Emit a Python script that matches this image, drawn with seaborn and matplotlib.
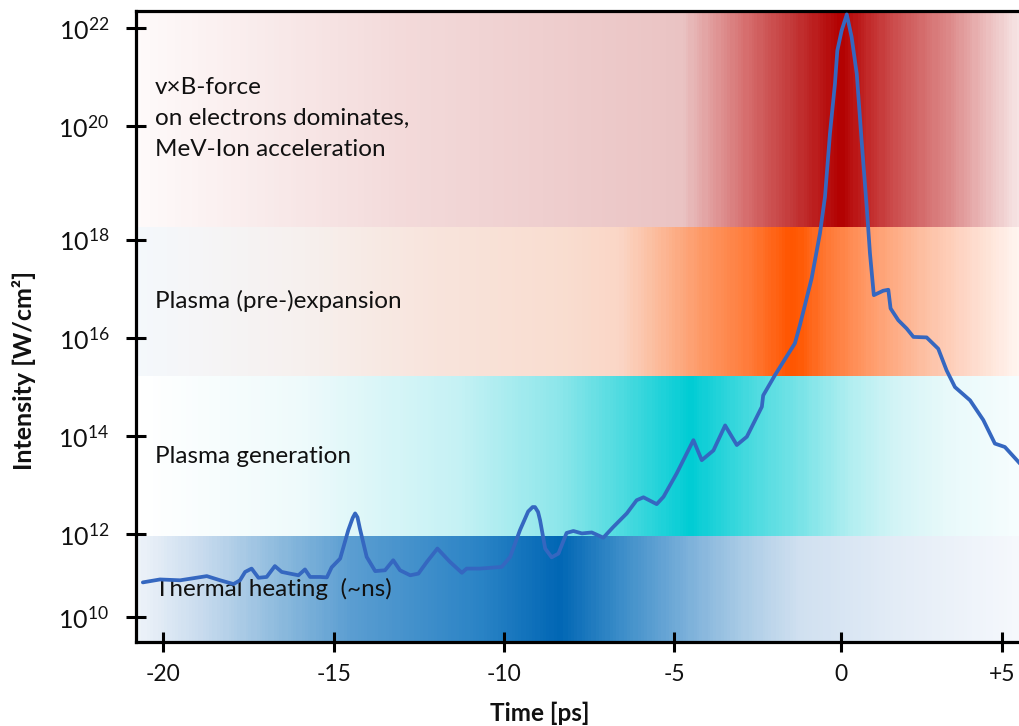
import numpy as np
import matplotlib
matplotlib.use("Agg")
import matplotlib.pyplot as plt
import matplotlib.transforms as mtransforms
import seaborn as sns
from matplotlib.colors import LinearSegmentedColormap
from matplotlib.ticker import FixedLocator, FixedFormatter, NullLocator

# ---------------------------------------------------------------------------
# Laser pulse temporal contrast: time [ps] and log10 of intensity [W/cm^2]
# ---------------------------------------------------------------------------
time_ps = [
    -20.59, -20.09, -19.50, -18.72, -18.33, -17.94, -17.75, -17.60, -17.41, -17.21,
    -16.97, -16.73, -16.53, -16.29, -16.04, -15.85, -15.70, -15.41, -15.21, -15.07,
    -14.82, -14.58, -14.45, -14.38, -14.31, -14.24, -14.04, -13.79, -13.50, -13.26,
    -13.06, -12.76, -12.52, -12.27, -11.96, -11.59, -11.24, -11.10, -10.71, -10.07,
    -9.82, -9.53, -9.29, -9.16, -9.09, -9.00, -8.94, -8.79, -8.60, -8.40,
    -8.16, -7.96, -7.71, -7.42, -7.08, -6.79, -6.39, -6.10, -5.90, -5.51, -5.31,
    -4.92, -4.42, -4.17, -3.82, -3.47, -3.12, -2.82, -2.37, -2.33, -1.98,
    -1.38, -1.23, -0.88, -0.63, -0.48, -0.33, -0.18, -0.11, 0.02, 0.18,
    0.33, 0.49, 0.64, 0.80, 0.90, 1.02, 1.31, 1.47, 1.54, 1.78,
    2.04, 2.25, 2.66, 3.02, 3.28, 3.54, 4.01, 4.42, 4.78, 5.09, 5.56,
]
log_intensity = [
    10.84, 10.91, 10.89, 10.99, 10.89, 10.80, 10.89, 11.09, 11.17, 10.95,
    10.97, 11.23, 11.09, 11.05, 11.01, 11.15, 10.97, 10.97, 10.96, 11.20,
    11.41, 12.08, 12.33, 12.42, 12.34, 12.11, 11.45, 11.11, 11.13, 11.37,
    11.13, 11.01, 11.05, 11.33, 11.65, 11.33, 11.07, 11.17, 11.17, 11.21,
    11.45, 12.08, 12.46, 12.55, 12.55, 12.45, 12.28, 11.65, 11.44, 11.53,
    12.02, 12.06, 12.01, 12.03, 11.91, 12.14, 12.42, 12.69, 12.75, 12.61, 12.76,
    13.24, 13.92, 13.51, 13.71, 14.22, 13.82, 13.99, 14.60, 14.83, 15.24,
    15.89, 16.26, 17.21, 18.11, 18.75, 19.87, 20.87, 21.54, 21.95, 22.28,
    21.82, 21.07, 19.75, 18.57, 17.72, 16.87, 16.96, 16.98, 16.60, 16.36,
    16.19, 16.02, 16.01, 15.78, 15.34, 15.00, 14.73, 14.33, 13.85, 13.78, 13.44,
]

# Axis ticks
x_ticks = [-20, -15, -10, -5, 0, 5]
x_tick_labels = ["-20", "-15", "-10", "-5", "0", "+5"]
y_tick_exponents = [10, 12, 14, 16, 18, 20, 22]
x_range = (-20.80, 5.56)
y_exp_range = (9.42, 22.36)

# The axes are hand-spaced: relative gap between neighbouring ticks
x_tick_gaps = [1.006, 1.0, 1.0, 0.982, 0.947]
y_tick_gaps = [0.853, 0.997, 1.004, 1.003, 1.159, 1.0]

# Interaction regimes (log10 intensity limits) and their labels
band_labels = [
    "Thermal heating  (~ns)",
    "Plasma generation",
    "Plasma (pre-)expansion",
    "v×B-force\non electrons dominates,\nMeV-Ion acceleration",
]
band_low = [9.42, 11.94, 15.22, 18.23]
band_high = [11.94, 15.22, 18.23, 22.36]

# Horizontal colour gradients of the regime bands: (time [ps], colour)
band_gradients = [
    [(-20.8, "#eef3f9"), (-18.9, "#c8dbee"), (-16.6, "#8cbadd"), (-14.5, "#5a9dd1"),
     (-10.7, "#2a83c5"), (-8.35, "#0066b4"), (-6.6, "#3a8cc8"), (-4.8, "#74acd8"),
     (-3.0, "#a8cae5"), (-1.2, "#d0e0f0"), (1.8, "#e3ecf6"), (5.56, "#f5f8fc")],
    [(-20.8, "#ffffff"), (-16.0, "#eefafb"), (-11.3, "#c4f1f4"), (-8.35, "#8ce6ea"),
     (-6.6, "#50dbe0"), (-4.5, "#00ccd4"), (-2.7, "#48dadf"), (-1.2, "#78e3e7"),
     (0.3, "#b0eef0"), (1.8, "#d4f4f6"), (3.4, "#e8f9fa"), (5.56, "#f6fdfe")],
    [(-20.8, "#f4f8fc"), (-16.0, "#f6f0ee"), (-12.2, "#f8e4dc"), (-8.3, "#f9ddd0"),
     (-6.6, "#fad6c6"), (-6.0, "#fbc8b0"), (-4.2, "#fd9a68"), (-2.7, "#ff7a38"),
     (-1.5, "#ff5500"), (-1.2, "#ff5a05"), (-0.3, "#ff7a38"), (0.9, "#ff9a68"),
     (2.4, "#fdbb9c"), (4.0, "#fed8c8"), (5.56, "#fff5f0")],
    [(-20.8, "#fefafa"), (-13.06, "#f3dada"), (-4.73, "#eac3c3"), (-2.72, "#d56a6a"),
     (-1.53, "#c43c3c"), (0.03, "#b20000"), (0.90, "#c22a2a"), (1.83, "#cd5252"),
     (3.39, "#dc8888"), (4.63, "#ecbfbf"), (5.56, "#f6e4e4")],
]

LINE_COLOR = "#3567c0"
TEXT_COLOR = "#111111"


# ---------------------------------------------------------------------------
# Piecewise axis scales following the irregular tick spacing
# ---------------------------------------------------------------------------
def knots(values, gaps, pad_lo, pad_hi):
    vals = [values[0] - (values[1] - values[0])] + list(values) + \
           [values[-1] + (values[-1] - values[-2])]
    g = [pad_lo] + list(gaps) + [pad_hi]
    pos = np.concatenate([[0.0], np.cumsum(g)])
    return np.asarray(vals, float), pos


xk_val, xk_pos = knots(x_ticks, x_tick_gaps, x_tick_gaps[0], x_tick_gaps[-1])
yk_val, yk_pos = knots(y_tick_exponents, y_tick_gaps, y_tick_gaps[0], y_tick_gaps[-1])


def x_fwd(t):
    return np.interp(np.asarray(t, float), xk_val, xk_pos)


def x_inv(p):
    return np.interp(np.asarray(p, float), xk_pos, xk_val)


def y_fwd(v):
    v = np.clip(np.asarray(v, float), 1e-300, None)
    return np.interp(np.log10(v), yk_val, yk_pos)


def y_inv(p):
    return 10.0 ** np.interp(np.asarray(p, float), yk_pos, yk_val)


# ---------------------------------------------------------------------------
# Figure
# ---------------------------------------------------------------------------
sns.set_theme(style="white")
plt.rcParams["font.family"] = ["Lato", "DejaVu Sans"]
plt.rcParams["mathtext.fontset"] = "custom"
plt.rcParams["mathtext.rm"] = "Lato"
plt.rcParams["mathtext.it"] = "Lato:italic"
plt.rcParams["mathtext.bf"] = "Lato:bold"
plt.rcParams["mathtext.default"] = "regular"

fig = plt.figure(figsize=(10.2, 7.26), dpi=100)
ax = fig.add_axes([0.1330, 0.1161, 0.8670, 0.8694])

# Regime bands with horizontal gradients
n_cols = 320
x_edges = np.linspace(x_range[0], x_range[1], n_cols + 1)
x_mid = 0.5 * (x_edges[:-1] + x_edges[1:])
for lo, hi, stops in zip(band_low, band_high, band_gradients):
    span = x_range[1] - x_range[0]
    cmap = LinearSegmentedColormap.from_list(
        "band",
        [(min(max((t - x_range[0]) / span, 0.0), 1.0), c) for t, c in stops],
    )
    vals = ((x_mid - x_range[0]) / span)[None, :]
    ax.pcolormesh(x_edges, [10.0 ** lo, 10.0 ** hi], vals, cmap=cmap,
                  vmin=0, vmax=1, shading="flat", zorder=0, linewidth=0,
                  antialiased=False)

# Pulse intensity trace
intensity = 10.0 ** np.asarray(log_intensity)
sns.lineplot(x=time_ps, y=intensity, ax=ax, color=LINE_COLOR, linewidth=2.7,
             estimator=None, sort=False, zorder=5)
for line in ax.get_lines():
    line.set_solid_joinstyle("round")
    line.set_solid_capstyle("round")

ax.set_xscale("function", functions=(x_fwd, x_inv))
ax.set_yscale("function", functions=(y_fwd, y_inv))
ax.set_xlim(*x_range)
ax.set_ylim(10.0 ** y_exp_range[0], 10.0 ** y_exp_range[1])

# Regime labels, vertically centred in each band
trans = mtransforms.blended_transform_factory(ax.transAxes, ax.transData)
for lo, hi, label in zip(band_low, band_high, band_labels):
    mid = y_inv(0.5 * (y_fwd(10.0 ** lo) + y_fwd(10.0 ** hi)))
    ax.text(0.022, float(mid), label, transform=trans, ha="left", va="center",
            fontsize=17.5, color=TEXT_COLOR, linespacing=1.6, zorder=3)

# Ticks
ax.xaxis.set_major_locator(FixedLocator(x_ticks))
ax.xaxis.set_major_formatter(FixedFormatter(x_tick_labels))
ax.xaxis.set_minor_locator(NullLocator())
y_tick_values = [10.0 ** e for e in y_tick_exponents]
ax.yaxis.set_major_locator(FixedLocator(y_tick_values))
ax.yaxis.set_major_formatter(FixedFormatter([f"$10^{{{e}}}$" for e in y_tick_exponents]))
ax.yaxis.set_minor_locator(NullLocator())

ax.tick_params(axis="both", which="major", direction="inout", length=13.7,
               width=2.2, color="black", labelcolor=TEXT_COLOR, labelsize=16.5,
               bottom=True, left=True, top=False, right=False)
ax.tick_params(axis="y", pad=12, labelsize=18)
ax.tick_params(axis="x", pad=9)

for side in ("left", "bottom", "top"):
    ax.spines[side].set_visible(True)
    ax.spines[side].set_color("black")
    ax.spines[side].set_linewidth(2.3)
ax.spines["right"].set_visible(False)
ax.grid(False)

ax.set_xlabel("Time [ps]", fontsize=17.5, fontweight="bold", color=TEXT_COLOR,
              labelpad=12, x=0.457)
ax.set_ylabel("Intensity [W/cm²]", fontsize=18, fontweight="bold", color=TEXT_COLOR,
              labelpad=16, y=0.43)

fig.savefig("out.png", dpi=100)
